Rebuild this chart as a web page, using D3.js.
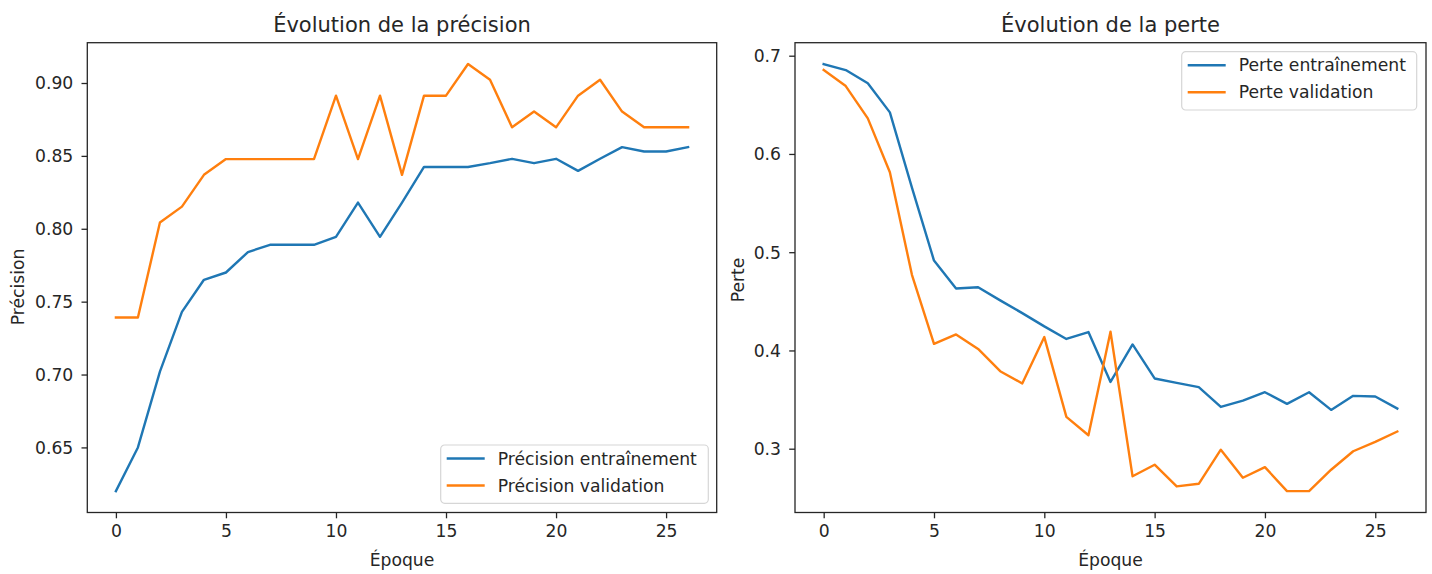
<!DOCTYPE html>
<html>
<head>
<meta charset="utf-8">
<script src="https://cdn.jsdelivr.net/npm/d3@7"></script>
<style>
  body { margin: 0; background: #fff; }
  svg text { font-family: "DejaVu Sans", sans-serif; fill: #262626; }
</style>
</head>
<body>
<div id="chart"></div>
<script>
// data
var epochs = d3.range(0, 27);
var accTrain = [0.620, 0.650, 0.702, 0.743, 0.765, 0.770, 0.784, 0.789, 0.789, 0.789,
    0.7945, 0.818, 0.7945, 0.818, 0.8424, 0.8424, 0.8424, 0.845, 0.848, 0.845,
    0.848, 0.8397, 0.848, 0.856, 0.853, 0.853, 0.856];
var accVal = [0.7391, 0.7391, 0.8043, 0.8152, 0.8370, 0.8478, 0.8478, 0.8478, 0.8478, 0.8478,
    0.8913, 0.8478, 0.8913, 0.8370, 0.8913, 0.8913, 0.9130, 0.9022, 0.8696, 0.8804,
    0.8696, 0.8913, 0.9022, 0.8804, 0.8696, 0.8696, 0.8696];
var lossTrain = [0.6915, 0.6854, 0.6719, 0.6423, 0.5657, 0.4915, 0.4631, 0.4644, 0.451, 0.438,
    0.4245, 0.4117, 0.4187, 0.368, 0.4061, 0.3715, 0.367, 0.3626, 0.3425, 0.349,
    0.3575, 0.3456, 0.3575, 0.3395, 0.3538, 0.3531, 0.3409];
var lossVal = [0.6854, 0.6691, 0.6362, 0.5813, 0.477, 0.4067, 0.4163, 0.4016, 0.3789, 0.3664,
    0.4136, 0.3324, 0.3137, 0.419, 0.2719, 0.2837, 0.2616, 0.2643, 0.299, 0.2704,
    0.2812, 0.2568, 0.2568, 0.2786, 0.2974, 0.3069, 0.3175];

var xTicks = [0, 5, 10, 15, 20, 25];
var accTicks = [0.65, 0.70, 0.75, 0.80, 0.85, 0.90];
var lossTicks = [0.3, 0.4, 0.5, 0.6, 0.7];

var blue = '#1f77b4', orange = '#ff7f0e';
var fs = '17.2px';

var svg = d3.select('#chart').append('svg')
    .attr('width', 1432).attr('height', 574);

// matplotlib style 5% margins
function padded(vals) {
    var e = d3.extent(vals);
    var m = (e[1] - e[0]) * 0.05;
    return [e[0] - m, e[1] + m];
}

function drawPanel(opt) {
    var xScale = d3.scaleLinear().domain(padded(epochs)).range([opt.left, opt.right]);
    var yScale = d3.scaleLinear().domain(padded(opt.series[0].values.concat(opt.series[1].values)))
        .range([opt.bottom, opt.top]);
    var g = svg.append('g');

    // lines
    var line = d3.line().x((d, i) => xScale(epochs[i])).y(d => yScale(d));
    opt.series.forEach(function(s) {
        g.append('path').datum(s.values)
            .attr('d', line)
            .attr('fill', 'none')
            .attr('stroke', s.color)
            .attr('stroke-width', 2.4)
            .attr('stroke-linejoin', 'round')
            .attr('stroke-linecap', 'square');
    });

    // axes
    var xAxis = d3.axisBottom(xScale).tickValues(xTicks).tickSize(5.8).tickPadding(5.8);
    var yAxis = d3.axisLeft(yScale).tickValues(opt.yTicks).tickFormat(d3.format(opt.yFmt))
        .tickSize(5.8).tickPadding(5.8);
    var gx = g.append('g').attr('transform', `translate(0,${opt.bottom})`).call(xAxis);
    var gy = g.append('g').attr('transform', `translate(${opt.left},0)`).call(yAxis);
    [gx, gy].forEach(function(a) {
        a.select('.domain').remove();
        a.selectAll('line').attr('stroke', '#262626').attr('stroke-width', 1.3);
        a.selectAll('text').style('font-size', fs)
            .style('font-family', '"DejaVu Sans", sans-serif').attr('fill', '#262626');
    });
    gx.selectAll('text').attr('dy', '0.71em').attr('y', 12);
    gy.selectAll('text').attr('x', -14).attr('dy', '0.34em');

    // frame
    g.append('rect')
        .attr('x', opt.left).attr('y', opt.top)
        .attr('width', opt.right - opt.left).attr('height', opt.bottom - opt.top)
        .attr('fill', 'none').attr('stroke', '#262626').attr('stroke-width', 1.3);

    // title & labels
    var cx = (opt.left + opt.right) / 2;
    g.append('text').attr('x', cx).attr('y', 32).attr('text-anchor', 'middle')
        .style('font-size', '21px').text(opt.title);
    g.append('text').attr('x', cx).attr('y', 566).attr('text-anchor', 'middle')
        .style('font-size', fs).text('Époque');
    g.append('text')
        .attr('transform', `translate(${opt.ylabelX},${opt.ylabelY}) rotate(-90)`)
        .attr('text-anchor', 'middle').attr('dy', '0.35em')
        .style('font-size', fs).text(opt.ylabel);

    // legend
    var L = opt.legend;
    var lg = g.append('g').attr('transform', `translate(${L.x},${L.y})`);
    lg.append('rect').attr('width', L.w).attr('height', L.h)
        .attr('rx', 4).attr('fill', 'rgba(255,255,255,0.8)')
        .attr('stroke', '#d6d6d6').attr('stroke-width', 1.2);
    opt.series.forEach(function(s, i) {
        var yy = 13.5 + i * 27;
        lg.append('line').attr('x1', 6).attr('x2', 44).attr('y1', yy).attr('y2', yy)
            .attr('stroke', s.color).attr('stroke-width', 2.4);
        lg.append('text').attr('x', 57).attr('y', yy).attr('dy', '0.35em')
            .style('font-size', fs).text(s.name);
    });
}

drawPanel({
    left: 87.3, right: 716.7, top: 42.7, bottom: 512.5,
    title: 'Évolution de la précision', ylabel: 'Précision', ylabelX: 18, ylabelY: 287,
    yTicks: accTicks, yFmt: '.2f',
    series: [
        { name: 'Précision entraînement', values: accTrain, color: blue },
        { name: 'Précision validation', values: accVal, color: orange }
    ],
    legend: { x: 440.7, y: 445, w: 267.6, h: 58.3 }
});

drawPanel({
    left: 795, right: 1426, top: 42.7, bottom: 512.5,
    title: 'Évolution de la perte', ylabel: 'Perte', ylabelX: 738, ylabelY: 280,
    yTicks: lossTicks, yFmt: '.1f',
    series: [
        { name: 'Perte entraînement', values: lossTrain, color: blue },
        { name: 'Perte validation', values: lossVal, color: orange }
    ],
    legend: { x: 1181.7, y: 51.7, w: 235, h: 58.3 }
});
</script>
</body>
</html>
